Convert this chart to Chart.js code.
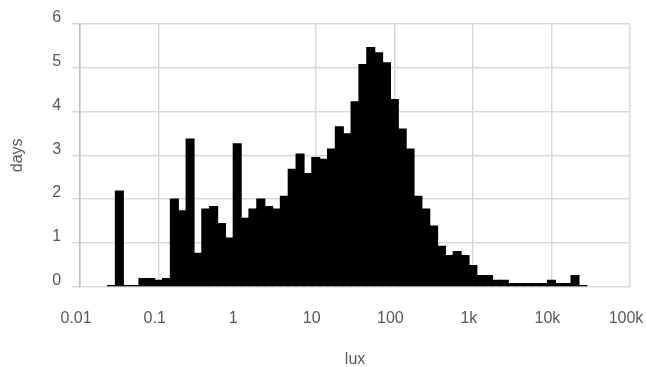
<!DOCTYPE html>
<html>
<head>
<meta charset="utf-8">
<script src="https://cdn.jsdelivr.net/npm/chart.js@4/dist/chart.umd.min.js"></script>
<style>
  body { margin: 0; background: #fff; }
  #wrap { width: 646px; height: 367px; }
</style>
</head>
<body>
<div id="wrap"><canvas id="lightChart"></canvas></div>
<script>
// histogram bins: 10 per decade, first bin centred on 10^-1.6 lux
const firstBinLog = -1.6;
const binsPerDecade = 10;

// days spent in each lux bin
const days = [
  0.02, 2.18, 0.02, 0.02, 0.18, 0.18, 0.14, 0.18, 2.0, 1.73,
  3.37, 0.76, 1.77, 1.83, 1.44, 1.11, 3.26, 1.56, 1.77, 2.0,
  1.83, 1.77, 2.06, 2.68, 3.03, 2.58, 2.95, 2.91, 3.14, 3.65,
  3.49, 4.22, 5.07, 5.46, 5.34, 5.11, 4.27, 3.6, 3.14, 2.06,
  1.77, 1.38, 0.92, 0.71, 0.8, 0.71, 0.48, 0.25, 0.25, 0.14,
  0.14, 0.07, 0.07, 0.07, 0.07, 0.07, 0.14, 0.07, 0.07, 0.25,
  0.02
];

const xTicks = [0.01, 0.1, 1, 10, 100, 1000, 10000, 100000];
const xTickLabels = ['0.01', '0.1', '1', '10', '100', '1k', '10k', '100k'];

const binCenters = days.map((_, i) => Math.pow(10, firstBinLog + i / binsPerDecade));

const labelColor = '#595959';
const gridColor = '#d9d9d9';
const font = { family: 'Liberation Sans, Arial, sans-serif', size: 16 };

const ctx = document.getElementById('lightChart').getContext('2d');
const chart = new Chart(ctx, {
  type: 'bar',
  data: {
    datasets: [{
      label: 'days',
      data: days.map((d, i) => ({ x: binCenters[i], y: d })),
      backgroundColor: '#000',
      borderWidth: 0,
      barPercentage: 1,
      categoryPercentage: 1,
      inflateAmount: 0.6 // no seams between neighbouring bins
    }]
  },
  options: {
    responsive: true,
    maintainAspectRatio: false,
    animation: false,
    layout: {
      padding: { top: 24, right: 16, left: 0, bottom: 0 }
    },
    plugins: {
      legend: { display: false },
      tooltip: { enabled: false }
    },
    scales: {
      x: {
        type: 'logarithmic',
        min: 0.01,
        max: 100000,
        offset: false,
        afterBuildTicks: (scale) => {
          scale.ticks = xTicks.map(v => ({ value: v }));
        },
        afterFit: (scale) => {
          scale.paddingRight = 0;
          scale.paddingLeft = 0;
        },
        ticks: {
          color: labelColor,
          font: font,
          padding: 22,
          labelOffset: -4,
          maxRotation: 0,
          autoSkip: false,
          callback: (value) => {
            const i = xTicks.indexOf(value);
            return i >= 0 ? xTickLabels[i] : '';
          }
        },
        grid: {
          offset: false,
          drawTicks: false,
          lineWidth: 1.5,
          // the gridline at 1 lux is not drawn in the original
          color: (c) => (c.tick && c.tick.value === 1 ? 'rgba(0,0,0,0)' : gridColor)
        },
        border: { display: false },
        title: {
          display: true,
          text: 'lux',
          color: labelColor,
          font: font,
          padding: { top: 0, bottom: -2 }
        }
      },
      y: {
        min: 0,
        max: 6,
        afterFit: (scale) => {
          scale.paddingTop = 0;
        },
        ticks: {
          stepSize: 1,
          color: labelColor,
          font: font,
          padding: 11,
          labelOffset: -6
        },
        grid: {
          color: gridColor,
          lineWidth: 1.5,
          tickLength: 8
        },
        border: { color: '#bfbfbf', width: 1.5 },
        title: {
          display: true,
          text: 'days',
          color: labelColor,
          font: font,
          padding: { top: 8, bottom: 14 }
        }
      }
    }
  }
});
</script>
</body>
</html>
